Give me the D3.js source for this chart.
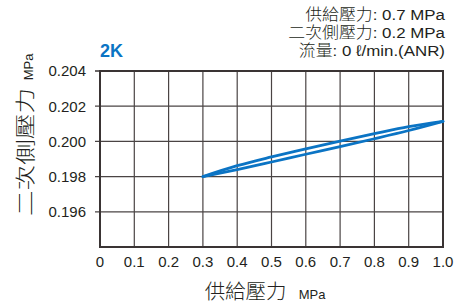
<!DOCTYPE html>
<html>
<head>
<meta charset="utf-8">
<script src="https://cdn.jsdelivr.net/npm/d3@7"></script>
<style>
body{margin:0;background:#fff;}
svg text{font-family:"Liberation Sans",Arial,sans-serif;fill:#231f20;}
.cjk{font-family:"Noto Sans CJK TC","Noto Sans CJK JP",sans-serif;font-weight:300;}
</style>
</head>
<body>
<div id="myGraph"></div>
<script>
// 데이터
var xTicks = [0, 0.1, 0.2, 0.3, 0.4, 0.5, 0.6, 0.7, 0.8, 0.9, 1.0];
var yTicks = [0.196, 0.198, 0.200, 0.202, 0.204];
var pressIn = [0.3, 0.4, 0.5, 0.6, 0.7, 0.8, 0.9, 1.0];
var upCurve = [0.1980, 0.19862, 0.19912, 0.19958, 0.20002, 0.20044, 0.20084, 0.20114];
var downCurve = [0.1980, 0.19840, 0.19883, 0.19927, 0.19970, 0.20015, 0.20062, 0.20114];
var noteKeys = ["供給壓力", "二次側壓力", "流量"];
var noteVals = [": 0.7 MPa", ": 0.2 MPa", ": 0 ℓ/min.(ANR)"];

var width = 473, height = 305;
var margin = {left: 100, right: 30, top: 71, bottom: 58};

var x = d3.scaleLinear().domain([0, 1]).range([margin.left, width - margin.right]);
var y = d3.scaleLinear().domain([0.194, 0.204]).range([height - margin.bottom, margin.top]);

var svg = d3.select("#myGraph").append("svg")
    .attr("width", width)
    .attr("height", height);

// 격자
svg.append("g").selectAll("line").data(xTicks.slice(1, -1)).enter().append("line")
    .attr("x1", function(d){ return x(d); }).attr("x2", function(d){ return x(d); })
    .attr("y1", y(0.204)).attr("y2", y(0.194))
    .attr("stroke", "#4a4444").attr("stroke-width", 1.2);
svg.append("g").selectAll("line").data(yTicks.slice(0, -1)).enter().append("line")
    .attr("x1", x(0) - 5).attr("x2", x(1))
    .attr("y1", function(d){ return y(d); }).attr("y2", function(d){ return y(d); })
    .attr("stroke", "#4a4444").attr("stroke-width", 1.2);
// 상단 눈금
svg.append("line").attr("x1", x(0) - 5).attr("x2", x(0))
    .attr("y1", y(0.204)).attr("y2", y(0.204))
    .attr("stroke", "#3a3434").attr("stroke-width", 1.5);

svg.append("rect")
    .attr("x", x(0)).attr("y", y(0.204))
    .attr("width", x(1) - x(0)).attr("height", y(0.194) - y(0.204))
    .attr("fill", "none").attr("stroke", "#3a3434").attr("stroke-width", 2);

// 축 라벨
svg.append("g").selectAll("text").data(yTicks).enter().append("text")
    .attr("x", x(0) - 14).attr("y", function(d){ return y(d); })
    .attr("dy", "0.36em").attr("text-anchor", "end")
    .style("font-size", "15px")
    .text(function(d){ return d3.format(".3f")(d); });

svg.append("g").selectAll("text").data(xTicks).enter().append("text")
    .attr("x", function(d){ return x(d); }).attr("y", 267)
    .attr("text-anchor", "middle")
    .style("font-size", "15px")
    .text(function(d){ return d === 0 ? "0" : d3.format(".1f")(d); });

// 곡선
var line = d3.line()
    .x(function(d){ return x(d[0]); })
    .y(function(d){ return y(d[1]); })
    .curve(d3.curveMonotoneX);
[upCurve, downCurve].forEach(function(s){
    svg.append("path")
        .datum(pressIn.map(function(p, i){ return [p, s[i]]; }))
        .attr("d", line)
        .attr("fill", "none")
        .attr("stroke", "#0b74c4")
        .attr("stroke-width", 2.8)
        .attr("stroke-linecap", "round");
});

// 제목
svg.append("text").attr("x", 100).attr("y", 57)
    .style("font-size", "18px").style("font-weight", "bold")
    .style("fill", "#0b74c4").text("2K");

var nt = svg.append("g").selectAll("text").data(noteKeys).enter().append("text")
    .attr("transform", function(d, i){ return "translate(445," + (20 + i * 18) + ") scale(1.09,1)"; })
    .attr("text-anchor", "end");
nt.append("tspan").attr("class", "cjk").style("font-size", "15.5px").text(function(d){ return d; });
nt.append("tspan").style("font-size", "15.5px").text(function(d, i){ return noteVals[i]; });

var xt = svg.append("text").attr("x", 265).attr("y", 299).attr("text-anchor", "middle");
xt.append("tspan").attr("class", "cjk").style("font-size", "20.5px").text("供給壓力");
xt.append("tspan").attr("dx", 12).style("font-size", "13px").text("MPa");

svg.append("text")
    .attr("transform", "translate(33,152) rotate(-90) scale(1.28,1)")
    .attr("text-anchor", "middle")
    .attr("class", "cjk").style("font-size", "20px")
    .text("二次側壓力");
svg.append("text")
    .attr("transform", "translate(33,67) rotate(-90)")
    .attr("text-anchor", "middle")
    .style("font-size", "13px")
    .text("MPa");
</script>
</body>
</html>
